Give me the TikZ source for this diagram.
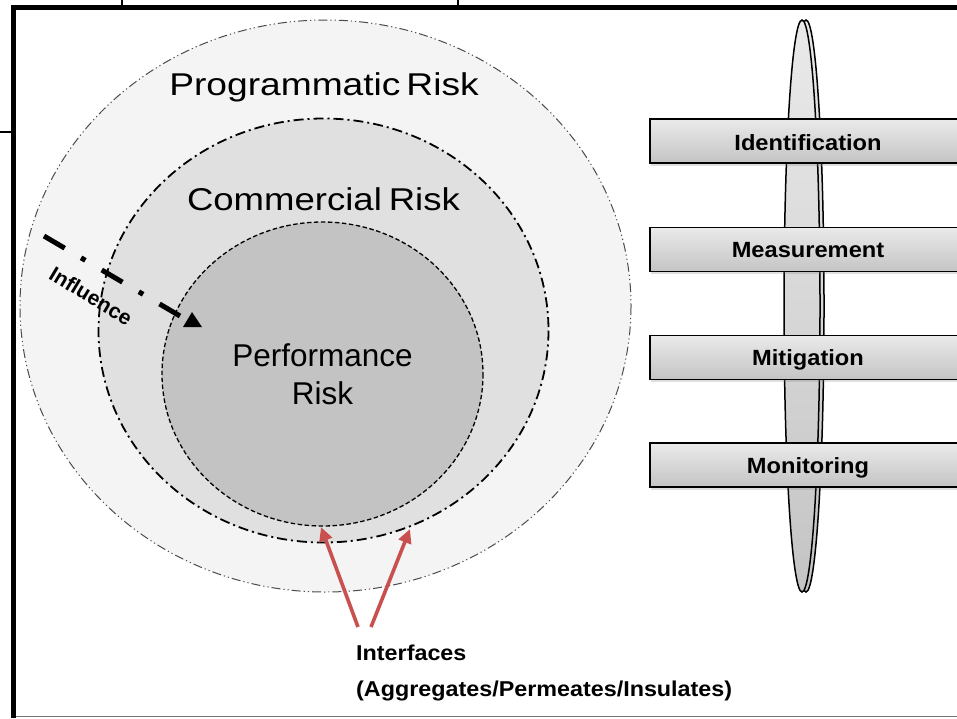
\documentclass[tikz,border=0pt]{standalone}
\usepackage{fontspec}
\setmainfont{Liberation Sans}
\usetikzlibrary{arrows.meta,shadows}

\definecolor{ringout}{HTML}{F4F4F4}
\definecolor{ringmid}{HTML}{E0E0E0}
\definecolor{ringin}{HTML}{C3C3C3}
\definecolor{ifred}{HTML}{C8504E}
\definecolor{barlight}{HTML}{EAEAEA}
\definecolor{bardark}{HTML}{C4C4C4}

\tikzset{
  frameline/.style={line width=4.5pt, black},
  thinrule/.style={line width=1.4pt, black},
  bigtext/.style={font=\fontsize{31.5}{38}\selectfont, inner sep=0pt, anchor=base},
  steplabel/.style={font=\bfseries\fontsize{22}{26}\selectfont, inner sep=0pt, anchor=base, xscale=1.075},
  notelabel/.style={font=\bfseries\fontsize{21.5}{26}\selectfont, inner sep=0pt, anchor=base west, xscale=1.085},
  outerring/.style={draw=black!70, line width=1pt, fill=ringout,
    dash pattern=on 9pt off 3pt on 1.2pt off 3pt on 1.2pt off 3pt},
  midring/.style={draw=black, line width=1.8pt, fill=ringmid,
    dash pattern=on 10pt off 4pt on 2pt off 4pt},
  innerring/.style={draw=black, line width=1.3pt, fill=ringin,
    dash pattern=on 4.5pt off 2.5pt},
  spindle/.style={draw=black, line width=1.5pt, top color=barlight, bottom color=bardark},
  stagebox/.style={draw=black, line width=1.5pt, top color=barlight, bottom color=bardark,
    minimum height=44pt, minimum width=330pt, inner sep=0pt,
    drop shadow={opacity=0.25, shadow xshift=1pt, shadow yshift=-2.5pt}},
  influence/.style={line width=5pt, black, dash pattern=on 24pt off 19pt on 5pt off 19pt},
  ifarrow/.style={line width=3.6pt, ifred, -{Triangle[length=14pt,width=13pt]}}
}

\begin{document}
\begin{tikzpicture}[x=1pt,y=-1pt]
\useasboundingbox (0,0) rectangle (957,718);
\clip (0,0) rectangle (957,718);
\fill[white] (0,0) rectangle (957,718);

% nested risk rings
\path[outerring] (325.5,306) ellipse [x radius=305.5, y radius=286];
\path[midring] (323.5,330.5) ellipse [x radius=225, y radius=212];
\path[innerring] (322.5,374) ellipse [x radius=160.5, y radius=152];

\node[bigtext, xscale=1.18] (prog) at (324,95) {Programmatic\hspace{5pt}Risk};
\node[bigtext, xscale=1.16] (comm) at (323.5,210) {Commercial\hspace{6pt}Risk};
\node[bigtext] (perf) at (322.5,366) {Performance};
\node[bigtext] (perfrisk) at (322.5,404) {Risk};

% influence crossing into the core
\coordinate (infA) at (44,236);
\coordinate (infB) at (180,316);
\draw[influence] (infA) -- (infB);
\fill[black] (192,312) -- (183,327) -- (202,327) -- cycle;
\node[font=\bfseries\fontsize{21}{25}\selectfont, inner sep=0pt, rotate=-31] (infl) at (91,296) {Influence};

% process spindle with the four stages
\path[spindle] (806,306) ellipse [x radius=18, y radius=286];
\path[spindle] (802,306) ellipse [x radius=18, y radius=286];

\node[stagebox] (ident) at (815,141) {};
\node[stagebox] (meas) at (815,249.5) {};
\node[stagebox] (miti) at (815,357.5) {};
\node[stagebox] (moni) at (815,465) {};
\node[steplabel] at (808,150) {Identification};
\node[steplabel] at (808,257) {Measurement};
\node[steplabel] at (808,365) {Mitigation};
\node[steplabel] at (808,473) {Monitoring};

% interfaces between the rings
\node[notelabel] (iface) at (356,660) {Interfaces};
\node[notelabel] (ifacesub) at (356,696) {(Aggregates/Permeates/Insulates)};
\coordinate (tailL) at (358,627);
\coordinate (tailR) at (371,627);
\coordinate (edgeIn) at (321,527);
\coordinate (edgeMid) at (410,529);
\draw[ifarrow] (tailL) -- (edgeIn);
\draw[ifarrow] (tailR) -- (edgeMid);

% page frame
\draw[frameline] (13.5,718) -- (13.5,7.5) -- (957,7.5);
\draw[thinrule] (122,0) -- (122,6);
\draw[thinrule] (458,0) -- (458,6);
\draw[thinrule] (0,132) -- (12,132);
\draw[line width=1.4pt, black!55] (16,716.5) -- (957,716.5);
\end{tikzpicture}
\end{document}
